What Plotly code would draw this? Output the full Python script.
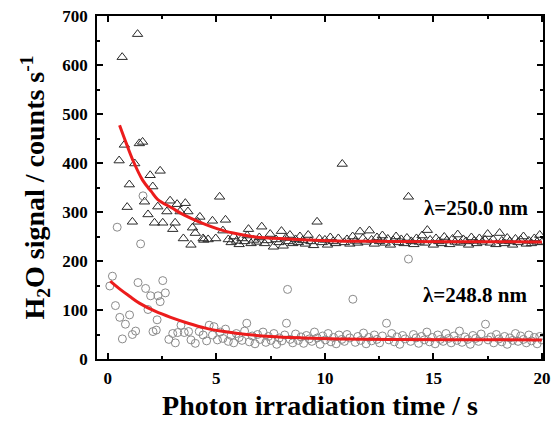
import plotly.graph_objects as go

# ---- data ----
tri_x = [0.52, 0.66, 0.76, 0.89, 0.99, 1.13, 1.24, 1.37, 1.45, 1.60, 1.69, 1.85, 1.95, 2.07, 2.15,
         2.30, 2.41, 2.53, 2.72, 2.87, 2.99, 3.10, 3.19, 3.33, 3.48, 3.57, 3.69, 3.83, 3.90, 4.03,
         4.14, 4.24, 4.39, 4.42, 4.62, 4.82, 4.97, 5.15,
         5.30, 5.42, 5.55, 5.68, 5.80, 5.93, 6.05, 6.18, 6.30, 6.42, 6.48, 6.60, 6.72, 6.86, 6.98,
         7.09, 7.22, 7.35, 7.48, 7.63, 7.75, 7.88, 8.00, 8.08, 8.20, 8.32, 8.39, 8.52, 8.65, 8.78,
         8.85, 8.98, 9.10, 9.23, 9.36, 9.48, 9.64, 9.75, 9.88, 10.00, 10.12, 10.25, 10.38, 10.50,
         10.62, 10.80, 10.90, 11.02, 11.15, 11.28, 11.40, 11.52, 11.62, 11.75, 11.88, 12.05, 12.15,
         12.28, 12.40, 12.52, 12.65, 12.78, 12.90, 13.02, 13.15, 13.28, 13.40, 13.52, 13.65, 13.78,
         13.85, 13.98, 14.10, 14.22, 14.35, 14.48, 14.60, 14.72, 14.85, 15.00, 15.12, 15.25, 15.38,
         15.50, 15.62, 15.75, 15.88, 16.00, 16.12, 16.25, 16.38, 16.50, 16.62, 16.75, 16.88, 17.00,
         17.12, 17.25, 17.38, 17.50, 17.62, 17.75, 17.88, 18.05, 18.15, 18.28, 18.40, 18.52, 18.65,
         18.78, 18.90, 19.02, 19.15, 19.28, 19.40, 19.52, 19.65, 19.78, 19.90, 20.00]
tri_y = [405, 616, 437, 310, 356, 280, 399, 663, 440, 443, 321, 295, 375, 352, 278,
         311, 384, 278, 301, 323, 265, 278, 316, 301, 246, 318, 301, 233, 268, 257,
         280, 290, 246, 243, 244, 282, 246, 331,
         262, 284, 244, 238, 250, 241, 234, 246, 240, 252, 265, 236, 243, 239, 248,
         270, 236, 242, 255, 229, 244, 238, 261, 231, 247, 240, 253, 236, 244, 238,
         250, 242, 235, 253, 240, 232, 280, 245, 238, 243, 233, 248, 240, 236,
         246, 398, 238, 244, 235, 250, 241, 237, 260, 246, 239, 262, 243,
         235, 248, 240, 252, 237, 245, 233, 242, 250, 238, 244, 236, 247,
         331, 240, 234, 246, 239, 252, 237, 263, 243, 233, 246, 240, 236,
         249, 242, 234, 245, 239, 254, 237, 244, 240, 233, 248, 241, 236,
         246, 239, 243, 255, 237, 244, 234, 257, 241, 236, 247, 240, 233,
         245, 238, 243, 250, 235, 241, 236, 246, 239, 253, 238]

cir_x = [0.09, 0.21, 0.35, 0.43, 0.55, 0.67, 0.81, 1.00, 1.13, 1.28, 1.39, 1.51, 1.62, 1.74, 1.85,
         1.97, 2.08, 2.23, 2.27, 2.31, 2.41, 2.53, 2.65, 2.81, 2.99, 3.11, 3.22, 3.37, 3.52, 3.72,
         3.83, 4.03, 4.21, 4.39, 4.55, 4.67, 4.82, 4.89, 5.05,
         5.18, 5.30, 5.42, 5.55, 5.68, 5.80, 5.92, 6.05, 6.18, 6.30, 6.40, 6.52, 6.65, 6.78, 6.90,
         7.02, 7.15, 7.28, 7.40, 7.52, 7.65, 7.78, 7.90, 8.02, 8.15, 8.23, 8.28, 8.40, 8.52, 8.65,
         8.78, 8.90, 9.02, 9.15, 9.28, 9.40, 9.52, 9.65, 9.78, 9.90, 10.02, 10.15, 10.28, 10.40,
         10.52, 10.65, 10.78, 10.90, 11.02, 11.15, 11.29, 11.40, 11.52, 11.65, 11.78, 11.90, 12.02,
         12.15, 12.28, 12.40, 12.52, 12.65, 12.84, 12.95, 13.08, 13.20, 13.32, 13.45, 13.58, 13.70,
         13.85, 13.95, 14.08, 14.20, 14.32, 14.45, 14.58, 14.70, 14.82, 14.95, 15.08, 15.20, 15.32,
         15.45, 15.58, 15.70, 15.82, 15.95, 16.08, 16.20, 16.32, 16.45, 16.58, 16.70, 16.82, 16.95,
         17.08, 17.20, 17.40, 17.52, 17.65, 17.78, 17.90, 18.02, 18.15, 18.28, 18.40, 18.52, 18.65,
         18.78, 18.90, 19.02, 19.15, 19.28, 19.40, 19.52, 19.65, 19.78, 19.90, 20.00]
cir_y = [149, 169, 109, 269, 85, 41, 71, 90, 50, 57, 156, 235, 333, 144, 101,
         129, 56, 59, 80, 129, 117, 160, 135, 40, 52, 33, 54, 69, 54, 56,
         39, 32, 56, 49, 37, 69, 49, 66, 39,
         55, 42, 61, 36, 48, 33, 52, 44, 38, 57, 73, 35, 47, 31, 50,
         40, 55, 34, 46, 38, 52, 30, 43, 37, 49, 73, 142, 40, 33, 51,
         38, 45, 32, 48, 41, 36, 55, 43, 30, 47, 39, 52, 35, 44,
         31, 49, 40, 36, 50, 43, 122, 34, 46, 38, 53, 31, 44,
         37, 49, 40, 33, 47, 73, 39, 52, 35, 45, 30, 48, 41,
         204, 36, 50, 43, 32, 46, 39, 55, 35, 44, 31, 49, 40,
         36, 52, 42, 33, 47, 38, 57, 34, 45, 40, 30, 48, 42,
         36, 51, 71, 39, 45, 33, 50, 41, 35, 46, 30, 43, 38,
         52, 36, 47, 40, 33, 49, 37, 44, 31, 46, 39]

fit_tri_x = [0.54, 0.85, 1.15, 1.6, 2.0, 2.29, 2.96, 3.5, 4.2, 5.25, 6.0, 6.8, 8.3, 10.6, 13.0, 16.0, 20.0]
fit_tri_y = [477, 440, 406, 365, 342, 326, 308, 294, 280, 263, 255, 249, 245, 241, 240, 239.5, 239]
fit_cir_x = [0.11, 0.6, 1.0, 1.45, 2.2, 2.96, 3.7, 4.5, 5.2, 6.0, 7.5, 9.0, 10.6, 13.0, 16.0, 20.0]
fit_cir_y = [159, 141, 128, 114, 97, 84, 73, 63, 57, 52, 46, 43, 41, 40, 39.5, 39]

labels = ["λ=250.0 nm", "λ=248.8 nm"]
label_x = [16.95, 16.9]
label_y = [308, 131]

x_ticks = [0, 5, 10, 15, 20]
y_ticks = [0, 100, 200, 300, 400, 500, 600, 700]

FONT = "Liberation Serif"

fig = go.Figure()
fig.add_trace(go.Scatter(x=tri_x, y=tri_y, mode="markers",
                         marker=dict(symbol="triangle-up-open", size=9, color="#2a2a2a",
                                     line=dict(width=1, color="#2a2a2a"))))
fig.add_trace(go.Scatter(x=cir_x, y=cir_y, mode="markers",
                         marker=dict(symbol="circle-open", size=8, color="#8a8a8a",
                                     line=dict(width=1, color="#8a8a8a"))))
fig.add_trace(go.Scatter(x=fit_tri_x, y=fit_tri_y, mode="lines",
                         line=dict(color="#ec1c1c", width=3, shape="spline")))
fig.add_trace(go.Scatter(x=fit_cir_x, y=fit_cir_y, mode="lines",
                         line=dict(color="#ec1c1c", width=3, shape="spline")))

for t, xx, yy in zip(labels, label_x, label_y):
    fig.add_annotation(x=xx, y=yy, text=t, showarrow=False,
                       font=dict(family=FONT, size=21, color="black", weight="bold"))

axis_common = dict(showgrid=False, zeroline=False, showline=True, linecolor="black",
                   linewidth=1.8, mirror="allticks", ticks="inside", ticklen=6,
                   tickwidth=1.5, tickcolor="black", automargin=False,
                   tickfont=dict(family=FONT, size=17, color="black", weight="bold"))

fig.update_xaxes(range=[-0.5, 20.05], tickvals=x_ticks, ticklabelstandoff=3,
                 minor=dict(ticks="inside", ticklen=3.5, tickwidth=1.5, tickcolor="black", dtick=2.5, tick0=0),
                 title=dict(text="Photon irradiation time / s", standoff=8,
                            font=dict(family=FONT, size=28, color="black", weight="bold")),
                 **axis_common)
fig.update_yaxes(range=[0, 700], tickvals=y_ticks, ticklabelstandoff=4,
                 minor=dict(ticks="inside", ticklen=3.5, tickwidth=1.5, tickcolor="black", dtick=50, tick0=0),
                 title=dict(text="H<sub>2</sub>O signal / counts s<sup>-1</sup>", standoff=9,
                            font=dict(family=FONT, size=28, color="black", weight="bold")),
                 **axis_common)

fig.update_layout(width=556, height=426, showlegend=False, template="none",
                  margin=dict(l=97, r=13, t=16, b=67),
                  plot_bgcolor="white", paper_bgcolor="white")

fig.write_html("out.html", config={"displayModeBar": False},
               post_script="document.body.style.margin='0';document.body.style.padding='0';")
